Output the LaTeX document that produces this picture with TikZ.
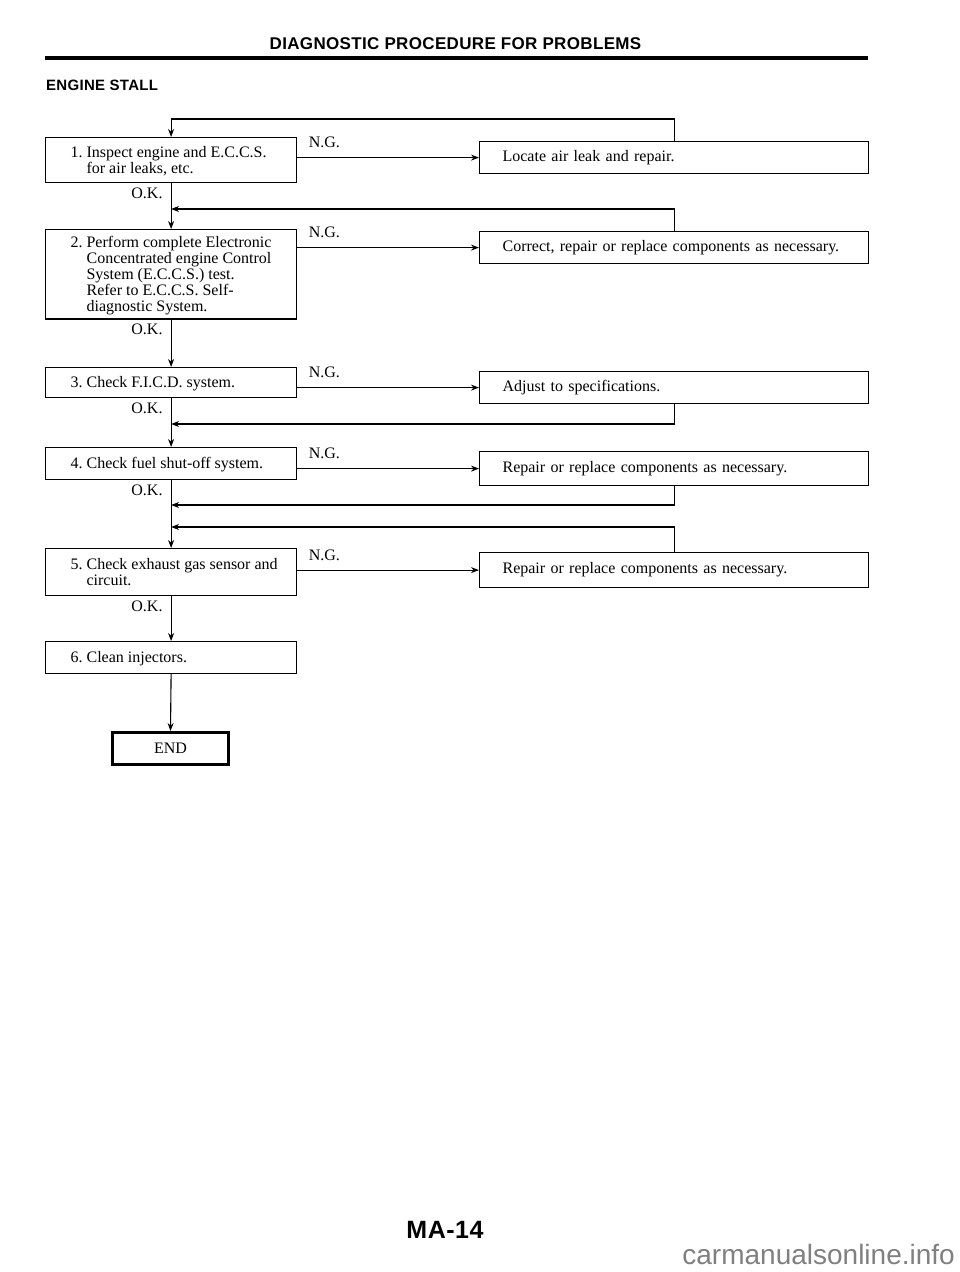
\documentclass[tikz,border=0pt]{standalone}
\usepackage{fontspec}
\setmainfont{Liberation Serif}
\newfontfamily\headfont[LetterSpace=2]{Liberation Sans}
\newfontfamily\markfont{Liberation Sans}
\usetikzlibrary{arrows.meta}
\newcommand{\stepno}[2]{\makebox[235pt][l]{\rule{0pt}{15pt}\hspace*{17pt}\makebox[16pt][l]{#1}\begin{tabular}[t]{@{}l@{}}#2\end{tabular}}}
\tikzset{
  boxfont/.style={font=\fontsize{16pt}{15.5pt}\selectfont},
  stepbox/.style={draw, line width=1.2pt, boxfont, anchor=north west,
    minimum width=251pt, inner xsep=8pt},
  fixbox/.style={draw, line width=1.2pt, boxfont, anchor=north west,
    minimum width=389pt, inner xsep=23pt, text width=343pt, align=left},
  flow/.style={line width=1.1pt, -{Stealth[length=8pt,width=6pt]}},
  tag/.style={inner sep=0pt, boxfont},
  nglabel/.style={tag, pos=0, anchor=base west, xshift=11pt, yshift=10pt},
  oklabel/.style={tag, pos=0, anchor=north east, xshift=-8pt, yshift=-4pt},
}
\begin{document}
\begin{tikzpicture}[x=1pt,y=-1pt]
\fill[white] (0,0) rectangle (960,1272);
\useasboundingbox (0,0) rectangle (960,1272);
% page head
\node[font=\headfont\bfseries\fontsize{17pt}{19pt}\selectfont] (title) at (455.5,44) {DIAGNOSTIC PROCEDURE FOR PROBLEMS};
\draw[line width=3.5pt] (45,58) -- (868,58);
\node[anchor=west, inner sep=0pt, font=\headfont\bfseries\fontsize{15pt}{17pt}\selectfont] (stall) at (46,85) {ENGINE STALL};
% checks on the left
\node[stepbox, minimum height=45pt] (s1) at (45,137) {\stepno{1.}{Inspect engine and E.C.C.S.\\for air leaks, etc.}};
\node[stepbox, minimum height=89pt] (s2) at (45,229) {\stepno{2.}{Perform complete Electronic\\Concentrated engine Control\\System (E.C.C.S.) test.\\Refer to E.C.C.S. Self-\\diagnostic System.}};
\node[stepbox, minimum height=30pt] (s3) at (45,367) {\stepno{3.}{Check F.I.C.D. system.}};
\node[stepbox, minimum height=32pt] (s4) at (45,447) {\stepno{4.}{Check fuel shut-off system.}};
\node[stepbox, minimum height=47pt] (s5) at (45,548) {\stepno{5.}{Check exhaust gas sensor and\\circuit.}};
\node[stepbox, minimum height=32pt] (s6) at (45,641) {\stepno{6.}{Clean injectors.}};
\node[draw, line width=2.5pt, boxfont, minimum width=116pt, minimum height=32pt, anchor=north] (stop) at (170.5,731) {END};
% remedies on the right
\node[fixbox, minimum height=32pt] (r1) at (479,141) {Locate air leak and repair.};
\node[fixbox, minimum height=32pt] (r2) at (479,231) {Correct, repair or replace components as necessary.};
\node[fixbox, minimum height=32pt] (r3) at (479,371) {Adjust to specifications.};
\node[fixbox, minimum height=34pt] (r4) at (479,451) {Repair or replace components as necessary.};
\node[fixbox, minimum height=35pt] (r5) at (479,552) {Repair or replace components as necessary.};
% main flow
\foreach \a/\b in {s1/s2,s2/s3,s3/s4,s4/s5,s5/s6}
  \draw[flow] (\a.south) -- node[oklabel] {O.K.} (\b.north);
\draw[flow] (s6.south) -- (stop.north);
\foreach \n in {1,...,5}
  \draw[flow] (s\n.east |- r\n.west) -- node[nglabel] {N.G.} (r\n.west);
% back to the main line
\coordinate (j2) at (s1.south |- 0,209);
\coordinate (j3) at (s3.south |- 0,424);
\coordinate (j4) at (s4.south |- 0,505);
\coordinate (j5) at (s4.south |- 0,527);
\draw[flow] (r1.north) -- ++(0,-22) -| (s1.north);
\draw[flow] (r2.north) |- (j2);
\draw[flow] (r3.south) |- (j3);
\draw[flow] (r4.south) |- (j4);
\draw[flow] (r5.north) |- (j5);
% page foot
\node[font=\headfont\bfseries\fontsize{25pt}{27pt}\selectfont] (page) at (445,1230) {MA-14};
\node[anchor=base east, inner sep=0pt, text=gray, font=\markfont\fontsize{28pt}{30pt}\selectfont] (site) at (955,1264) {carmanualsonline.info};
\end{tikzpicture}
\end{document}
